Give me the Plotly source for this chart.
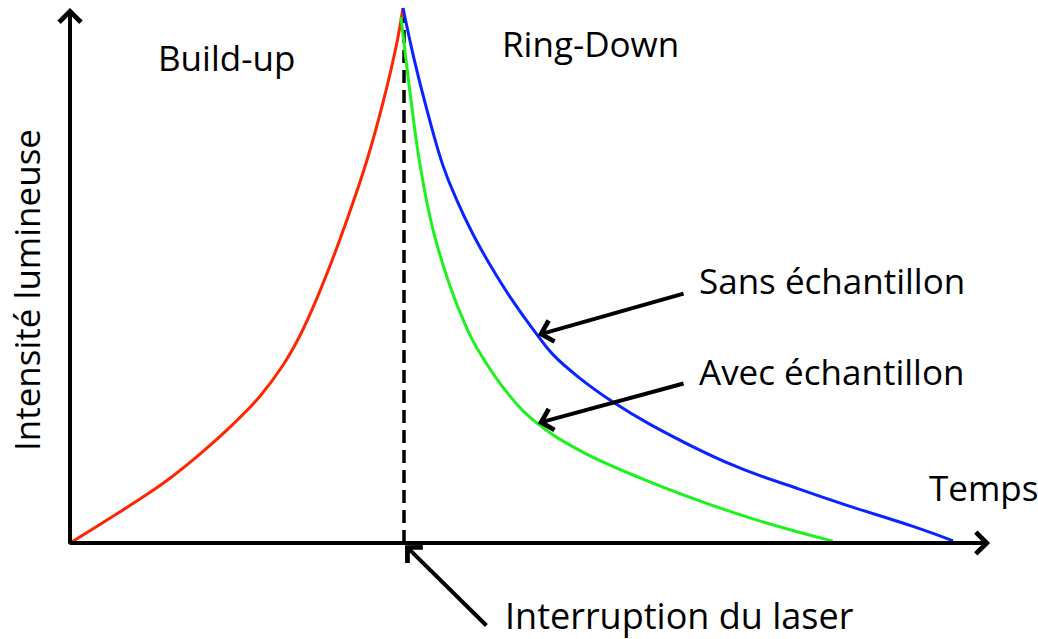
import plotly.graph_objects as go

# ---- data (schematic: time in arbitrary units, intensity normalised) ----
t_buildup = [0.0, 0.090, 0.189, 0.291, 0.390, 0.489, 0.571, 0.640, 0.691, 0.742,
             0.790, 0.841, 0.892, 0.940, 0.982, 1.0]
i_buildup = [0.0, 0.0348, 0.0737, 0.1168, 0.1662, 0.2217, 0.2748, 0.3327, 0.3884,
             0.4583, 0.5331, 0.6206, 0.7159, 0.8235, 0.9360, 1.0]

t_sans = [1.0, 1.0330, 1.0661, 1.1201, 1.1622, 1.2102, 1.2613, 1.3213, 1.4024,
          1.4505, 1.5315, 1.6306, 1.7417, 1.9910, 2.1922, 2.3333, 2.5315,
          2.6517]
i_sans = [1.0, 0.9054, 0.8232, 0.7054, 0.6400, 0.5772, 0.5200, 0.4602, 0.3895,
          0.3521, 0.3078, 0.2634, 0.2219, 0.1454, 0.1004, 0.0705, 0.0310,
          0.0041]

t_avec = [0.9940, 1.0240, 1.0511, 1.0901, 1.1411, 1.1862, 1.2222, 1.3213, 1.4024,
          1.5315, 1.7207, 1.9910, 2.1922, 2.2913]
i_avec = [0.9832, 0.8280, 0.7069, 0.5854, 0.4806, 0.4090, 0.3641, 0.2746, 0.2241,
          0.1727, 0.1196, 0.0572, 0.0196, 0.0036]

t_cut = [1.003, 1.003]
i_cut = [0.0, 0.983]

t_axis_end = 2.763
i_axis_end = 1.0

X_RANGE = [-0.2102, 2.9069]
Y_RANGE = [-0.1794, 1.0150]

FONT = "Open Sans"
FS = 35

fig = go.Figure()

fig.add_trace(go.Scatter(x=t_cut, y=i_cut, mode="lines",
                         line=dict(color="black", width=3.5, dash="13px,7px"),
                         hoverinfo="skip"))
fig.add_trace(go.Scatter(x=t_buildup, y=i_buildup, mode="lines",
                         line=dict(color="#FF2500", width=3, shape="spline",
                                   smoothing=1.2),
                         name="Build-up"))
fig.add_trace(go.Scatter(x=t_sans, y=i_sans, mode="lines",
                         line=dict(color="#0A24FF", width=3, shape="spline",
                                   smoothing=1.2),
                         name="Sans échantillon"))
fig.add_trace(go.Scatter(x=t_avec, y=i_avec, mode="lines",
                         line=dict(color="#1EF21E", width=3, shape="spline",
                                   smoothing=1.2),
                         name="Avec échantillon"))

def arrow(x, y, ax, ay):
    fig.add_annotation(x=x, y=y, ax=ax, ay=ay, xref="x", yref="y",
                       axref="x", ayref="y", text="", showarrow=True,
                       arrowhead=4, arrowsize=1.05, arrowwidth=4,
                       arrowcolor="black", standoff=0)

# axes
arrow(0.0, i_axis_end, 0.0, -0.004)
arrow(t_axis_end, 0.0, -0.006, 0.0)
# pointers
arrow(1.405, 0.389, 1.847, 0.467)
arrow(1.405, 0.224, 1.847, 0.299)
arrow(1.006, -0.004, 1.255, -0.157)

def label(x, y, text, xanchor="center", angle=0, size=FS):
    fig.add_annotation(x=x, y=y, xref="x", yref="y", text=text,
                       showarrow=False, xanchor=xanchor, yanchor="middle",
                       textangle=angle,
                       font=dict(family=FONT, size=size, color="black"))

label(0.471, 0.908, "Build-up")
label(1.562, 0.933, "Ring-Down")
label(1.883, 0.490, "Sans échantillon", xanchor="left")
label(1.883, 0.321, "Avec échantillon", xanchor="left")
label(2.574, 0.103, "Temps", xanchor="left")
label(1.300, -0.136, "Interruption du laser", xanchor="left", size=36)
label(-0.129, 0.473, "Intensité lumineuse", angle=-90)

fig.update_layout(
    width=1038, height=639,
    margin=dict(l=0, r=0, t=0, b=0),
    paper_bgcolor="white", plot_bgcolor="white",
    showlegend=False,
    xaxis=dict(range=X_RANGE, visible=False, fixedrange=True),
    yaxis=dict(range=Y_RANGE, visible=False, fixedrange=True),
)

fig.write_html("out.html",
               config={"displayModeBar": False},
               post_script="document.body.style.margin='0';"
                           "document.body.style.overflow='hidden';")
